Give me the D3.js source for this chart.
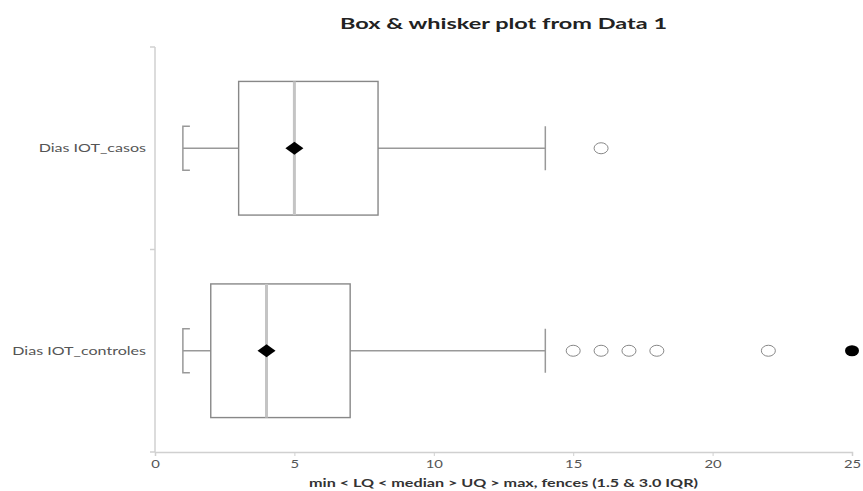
<!DOCTYPE html>
<html>
<head>
<meta charset="utf-8">
<script src="https://cdn.jsdelivr.net/npm/d3@7"></script>
<style>
  body { margin: 0; background: #fff; }
  text { font-family: Lato, "Open Sans", sans-serif; }
</style>
</head>
<body>
<div id="chart"></div>
<script>
var width = 863, height = 491;
var margin = {top: 47, right: 11, bottom: 39, left: 155};

// one entry per category
var categories = ["Dias IOT_casos", "Dias IOT_controles"];
var mins = [1, 1];
var q1s = [3, 2];
var medians = [5, 4];
var q3s = [8, 7];
var maxs = [14, 14];
var means = [5, 4];
// outliers beyond 1.5 IQR (open) and beyond 3.0 IQR (filled)
var mildOutliers = [[16], [15, 16, 17, 18, 22]];
var farOutliers = [[], [25]];
var xTicks = [0, 5, 10, 15, 20, 25];

var svg = d3.select("#chart").append("svg")
  .attr("width", width)
  .attr("height", height);

var x = d3.scaleLinear().domain([0, 25]).range([margin.left, width - margin.right]);
var y = d3.scaleBand().domain(categories).range([margin.top, height - margin.bottom]);
var bh = y.bandwidth() * 0.66;

// the reference text is stretched sideways
function widen(k) {
  return function(sel) {
    sel.each(function() {
      var w = this.getComputedTextLength();
      d3.select(this).attr("textLength", w * k).attr("lengthAdjust", "spacingAndGlyphs");
    });
  };
}

var midX = (margin.left + width - margin.right) / 2;

// title
svg.append("text")
  .attr("x", midX)
  .attr("y", 29)
  .attr("text-anchor", "middle")
  .style("font-size", "16px")
  .style("font-weight", "bold")
  .attr("fill", "#222")
  .text("Box & whisker plot from Data 1")
  .attr("textLength", 327).attr("lengthAdjust", "spacingAndGlyphs");

// y axis line with ticks at the band edges
svg.append("line")
  .attr("x1", margin.left).attr("x2", margin.left)
  .attr("y1", margin.top).attr("y2", height - margin.bottom)
  .attr("stroke", "#d0d0d0").attr("stroke-width", 1.5);
var edges = [margin.top].concat(categories.map(function(c) { return y(c) + y.bandwidth(); }));
svg.selectAll(".ytick").data(edges).enter().append("line")
  .attr("x1", margin.left - 5).attr("x2", margin.left)
  .attr("y1", function(d) { return d; }).attr("y2", function(d) { return d; })
  .attr("stroke", "#d0d0d0").attr("stroke-width", 1.5);

svg.selectAll(".ylab").data(categories).enter().append("text")
  .attr("x", margin.left - 9)
  .attr("y", function(d) { return y(d) + y.bandwidth() / 2 + 4; })
  .attr("text-anchor", "end")
  .style("font-size", "11px")
  .attr("fill", "#555")
  .text(function(d) { return d; })
  .call(widen(1.46));

// x axis
var xAxis = svg.append("g")
  .attr("transform", "translate(0," + (height - margin.bottom) + ")")
  .call(d3.axisBottom(x).tickValues(xTicks).tickSize(4).tickPadding(4));
xAxis.select(".domain").attr("stroke", "#d0d0d0").attr("stroke-width", 1.5);
xAxis.selectAll(".tick line").attr("stroke", "#d0d0d0");
xAxis.selectAll(".tick text")
  .style("font-family", "Lato, 'Open Sans', sans-serif")
  .style("font-size", "11px")
  .attr("fill", "#555")
  .call(widen(1.35));

svg.append("text")
  .attr("x", midX)
  .attr("y", 487)
  .attr("text-anchor", "middle")
  .style("font-size", "10.5px")
  .style("font-weight", "bold")
  .attr("fill", "#333")
  .text("min < LQ < median > UQ > max, fences (1.5 & 3.0 IQR)")
  .attr("textLength", 389).attr("lengthAdjust", "spacingAndGlyphs");

// boxes
var groups = svg.selectAll(".box").data(categories).enter().append("g");

groups.each(function(c, i) {
  var g = d3.select(this);
  var cy = y(c) + y.bandwidth() / 2;

  // whiskers
  g.append("line")
    .attr("x1", x(mins[i])).attr("x2", x(q1s[i]))
    .attr("y1", cy).attr("y2", cy)
    .attr("stroke", "#999").attr("stroke-width", 1.5);
  g.append("line")
    .attr("x1", x(q3s[i])).attr("x2", x(maxs[i]))
    .attr("y1", cy).attr("y2", cy)
    .attr("stroke", "#999").attr("stroke-width", 1.5);
  // min cap as bracket
  g.append("path")
    .attr("d", "M" + (x(mins[i]) + 7) + "," + (cy - 22) + "H" + x(mins[i]) + "V" + (cy + 22) + "H" + (x(mins[i]) + 7))
    .attr("fill", "none").attr("stroke", "#999").attr("stroke-width", 1.5);
  // max cap
  g.append("line")
    .attr("x1", x(maxs[i])).attr("x2", x(maxs[i]))
    .attr("y1", cy - 22).attr("y2", cy + 22)
    .attr("stroke", "#999").attr("stroke-width", 1.5);

  // box
  g.append("rect")
    .attr("x", x(q1s[i]))
    .attr("y", cy - bh / 2)
    .attr("width", x(q3s[i]) - x(q1s[i]))
    .attr("height", bh)
    .attr("fill", "none")
    .attr("stroke", "#888").attr("stroke-width", 1.4);

  // median
  g.append("line")
    .attr("x1", x(medians[i])).attr("x2", x(medians[i]))
    .attr("y1", cy - bh / 2).attr("y2", cy + bh / 2)
    .attr("stroke", "#c4c4c4").attr("stroke-width", 3);

  // mean diamond (wide)
  var mx = x(means[i]);
  g.append("path")
    .attr("d", "M" + (mx - 9) + "," + cy + "L" + mx + "," + (cy - 6.5) + "L" + (mx + 9) + "," + cy + "L" + mx + "," + (cy + 6.5) + "Z")
    .attr("fill", "#000");

  // outliers
  g.selectAll(".mild").data(mildOutliers[i]).enter().append("ellipse")
    .attr("cx", function(d) { return x(d); })
    .attr("cy", cy)
    .attr("rx", 7).attr("ry", 5.5)
    .attr("fill", "#fff").attr("stroke", "#888").attr("stroke-width", 1);
  g.selectAll(".far").data(farOutliers[i]).enter().append("ellipse")
    .attr("cx", function(d) { return x(d); })
    .attr("cy", cy)
    .attr("rx", 7).attr("ry", 5.5)
    .attr("fill", "#000");
});
</script>
</body>
</html>
